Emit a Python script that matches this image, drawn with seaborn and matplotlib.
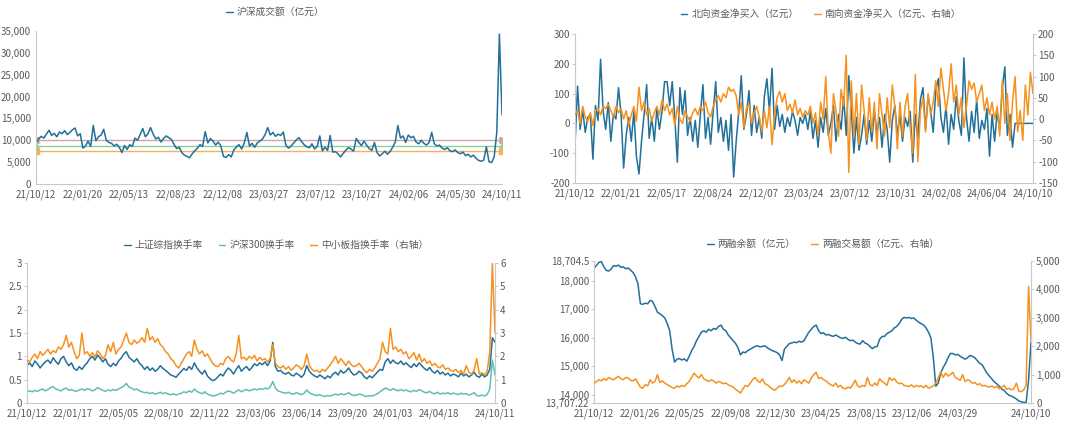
import numpy as np
import matplotlib
matplotlib.use("Agg")
import matplotlib.pyplot as plt
import seaborn as sns
from matplotlib.lines import Line2D
from matplotlib.ticker import FuncFormatter, MultipleLocator

# ---------------- data ----------------
# Panel 1: 沪深成交额 (亿元)
tl_labels = ['21/10/12', '22/01/20', '22/05/13', '22/08/23', '22/12/08', '23/03/27',
             '23/07/12', '23/10/27', '24/02/06', '24/05/30', '24/10/11']
turnover_value = [
    9400, 10300, 10900, 10500, 11400, 12300, 11100, 11600, 10800, 11900, 11500, 12200, 11300, 11800, 12400, 12800, 11000, 11500,
    8200, 8700, 9800, 8600, 13400, 9900, 10800, 11200, 12500, 10000, 9500, 9300, 8700, 9100, 8400, 7200, 8800, 7900,
    9000, 8600, 10500, 10000, 11300, 12700, 10800, 11500, 12900, 11400, 10300, 10700, 9600, 10400, 11000, 10600, 10200, 9100,
    8100, 8400, 7200, 6600, 6300, 6000, 6900, 7600, 8200, 9000, 8600, 12000, 9400, 10400, 9800, 8900, 9600, 8700,
    6300, 6100, 6700, 6200, 7800, 8500, 9000, 8000, 9400, 11800, 8700, 9300, 8400, 9400, 9800, 10300, 11300, 12900,
    11200, 11800, 10900, 11400, 11100, 11900, 8800, 8200, 8700, 9400, 10100, 10600, 9700, 9000, 8500, 8300, 9200, 8000,
    8600, 11000, 7600, 8400, 7700, 11100, 7300, 7400, 6900, 6200, 7000, 7700, 8300, 8000, 7500, 10400, 9500, 8800,
    9800, 8900, 8100, 7700, 9500, 7200, 6400, 6900, 7500, 6800, 7400, 8400, 9600, 13400, 10500, 11000, 9500, 11200,
    10600, 10900, 9600, 9200, 10000, 9300, 8900, 9500, 11800, 9200, 8700, 8900, 8200, 7900, 8300, 7600, 7400, 7800,
    7200, 6900, 7300, 6500, 6800, 6200, 6600, 5900, 5400, 5200, 5500, 8500, 5100, 4900, 6200, 11800, 34300, 15800,
]
ref_levels = [10100, 8800, 7600]

# Panel 2: 北向 / 南向资金净买入
tr_labels = ['21/10/12', '22/01/21', '22/05/17', '22/08/24', '22/12/07', '23/03/24',
             '23/07/12', '23/10/31', '24/02/08', '24/06/04', '24/10/10']
north_flow = [
    -75, 125, -20, 45, -30, 20, 30, -120, 60, 10, 215, 40, -20, 70, -60, 30, 15, 120,
    30, -150, -40, 20, -60, 40, -110, -170, -60, 30, 130, -50, 20, -60, 50, -20, 40, 140,
    140, 60, 140, 20, -130, 120, 30, 110, -40, 20, -60, 10, -80, 30, 130, -50, 20, -70,
    40, 140, -30, 20, -60, 10, -90, 30, -180, -60, 40, 160, -20, 30, 110, -40, 60, -30,
    20, -50, 90, 150, 40, 185, -20, 60, -10, 30, -30, 20, -10, 40, 10, -40, 20, 0,
    30, -20, 40, -50, 10, -80, 20, -30, 50, -40, 0, 60, -60, 30, -20, 90, -40, 160,
    40, -100, 20, -90, -40, 30, -70, 10, -60, 40, -30, 20, -80, 30, -20, -130, 10, 60,
    -40, 30, -60, 20, -10, 40, -130, 30, -50, 80, 120, -20, 90, 40, -30, 110, 150, 20,
    -30, 60, -70, 30, -20, 90, 10, -40, 220, 20, -60, 40, -30, 80, -50, 10, -20, 50,
    -110, 30, -60, 40, -20, 120, 190, -40, 30, -80, 0, 0, 0, 0, 0, 0, 0, 0,
]
south_flow = [
    10, 20, -10, 30, 5, -5, 15, -15, 20, 25, 10, 30, 25, 35, 20, 5, 30, 15,
    25, 0, 20, -15, 10, 30, -5, 75, 20, 40, 10, 25, -5, 15, 30, 10, 45, 20,
    35, 10, 25, -15, 30, 0, -10, 20, 5, -5, 15, 25, 10, 30, 20, 40, 15, 5,
    30, 45, 55, 40, 60, 50, 75, 65, 70, 55, 10, 40, -20, 25, 35, -10, 15, 30,
    5, -30, 20, -20, 30, -60, 10, 50, 65, 40, 60, 20, 35, 15, 45, 10, 25, 5,
    20, 10, 30, -10, 15, -40, 40, 0, 100, -30, -80, 60, 20, -40, 70, 30, 150, -125,
    90, -40, 60, -60, 80, 20, -50, 50, -30, 40, -70, 60, 10, -40, 50, -20, 80, 30,
    -70, 40, -40, 30, 60, -20, -80, 105, -100, 20, 50, -30, 60, 10, 40, 90, 30, 120,
    70, 20, 60, 130, 40, 80, 10, 50, -20, 30, 90, 70, 85, 40, 60, 80, 20, 50,
    10, 40, 0, 30, -40, 90, -10, 60, -50, 40, 100, -30, 20, -50, 80, 10, 110, 60,
]

# Panel 3: 换手率
bl_labels = ['21/10/12', '22/01/17', '22/05/05', '22/08/10', '22/11/22', '23/03/06',
             '23/06/14', '23/09/20', '24/01/03', '24/04/18', '', '24/10/11']
sse_turnover = [
    0.80, 0.86, 0.78, 0.90, 0.84, 0.75, 0.82, 0.88, 0.92, 0.85, 0.97, 0.89, 0.83, 0.95, 1.00, 0.88, 0.80, 0.86,
    0.74, 0.70, 0.78, 0.72, 0.80, 0.86, 0.95, 1.00, 0.92, 1.03, 0.96, 0.88, 0.95, 0.83, 0.78, 0.85, 0.80, 0.90,
    0.96, 1.05, 1.10, 0.98, 0.93, 0.88, 0.95, 0.85, 0.80, 0.72, 0.78, 0.70, 0.75, 0.68, 0.72, 0.80, 0.74, 0.70,
    0.65, 0.60, 0.58, 0.55, 0.62, 0.68, 0.74, 0.70, 0.78, 0.72, 0.86, 0.75, 0.68, 0.62, 0.70, 0.58, 0.52, 0.48,
    0.50, 0.56, 0.62, 0.58, 0.68, 0.75, 0.70, 0.62, 0.72, 0.80, 0.68, 0.74, 0.78, 0.70, 0.76, 0.84, 0.80, 0.86,
    0.82, 0.88, 0.80, 0.90, 1.30, 0.78, 0.68, 0.70, 0.64, 0.62, 0.66, 0.60, 0.58, 0.64, 0.60, 0.55, 0.62, 0.80,
    0.68, 0.62, 0.58, 0.55, 0.60, 0.56, 0.52, 0.58, 0.54, 0.62, 0.66, 0.60, 0.70, 0.64, 0.68, 0.75, 0.66, 0.60,
    0.62, 0.68, 0.64, 0.56, 0.52, 0.58, 0.54, 0.60, 0.66, 0.72, 0.70, 0.88, 0.95, 0.85, 0.92, 0.86, 0.84, 0.90,
    0.82, 0.86, 0.80, 0.76, 0.84, 0.78, 0.86, 0.80, 0.74, 0.70, 0.76, 0.68, 0.64, 0.70, 0.62, 0.66, 0.60, 0.64,
    0.58, 0.62, 0.60, 0.56, 0.64, 0.58, 0.62, 0.56, 0.60, 0.66, 0.58, 0.55, 0.62, 0.56, 0.60, 0.72, 1.40, 1.30,
]
hs300_turnover = [
    0.25, 0.26, 0.24, 0.27, 0.25, 0.28, 0.30, 0.26, 0.29, 0.33, 0.35, 0.30, 0.28, 0.26, 0.30, 0.32, 0.27, 0.29,
    0.26, 0.25, 0.28, 0.30, 0.27, 0.31, 0.29, 0.26, 0.28, 0.33, 0.30, 0.27, 0.25, 0.28, 0.26, 0.29, 0.27, 0.30,
    0.33, 0.36, 0.42, 0.34, 0.32, 0.28, 0.30, 0.26, 0.24, 0.22, 0.23, 0.20, 0.22, 0.19, 0.21, 0.23, 0.20, 0.22,
    0.19, 0.18, 0.20, 0.17, 0.19, 0.21, 0.24, 0.22, 0.26, 0.23, 0.30, 0.25, 0.22, 0.20, 0.24, 0.19, 0.17, 0.15,
    0.16, 0.18, 0.21, 0.19, 0.23, 0.26, 0.24, 0.21, 0.25, 0.28, 0.24, 0.27, 0.29, 0.26, 0.28, 0.30, 0.28, 0.31,
    0.29, 0.32, 0.30, 0.34, 0.46, 0.32, 0.26, 0.24, 0.22, 0.21, 0.23, 0.20, 0.19, 0.22, 0.20, 0.18, 0.21, 0.28,
    0.22, 0.19, 0.17, 0.16, 0.18, 0.15, 0.14, 0.16, 0.15, 0.17, 0.19, 0.17, 0.20, 0.18, 0.19, 0.22, 0.18, 0.16,
    0.17, 0.19, 0.18, 0.15, 0.14, 0.16, 0.15, 0.17, 0.20, 0.24, 0.28, 0.32, 0.30, 0.27, 0.31, 0.28, 0.26, 0.29,
    0.26, 0.28, 0.25, 0.24, 0.27, 0.25, 0.29, 0.26, 0.23, 0.22, 0.25, 0.21, 0.20, 0.23, 0.19, 0.21, 0.20, 0.22,
    0.19, 0.21, 0.20, 0.18, 0.21, 0.19, 0.20, 0.17, 0.19, 0.22, 0.16, 0.15, 0.17, 0.15, 0.18, 0.30, 0.92, 0.60,
]
sme_turnover = [
    1.84, 1.76, 1.96, 2.10, 1.90, 2.20, 2.04, 2.16, 2.30, 2.10, 2.24, 2.16, 2.40, 2.30, 2.50, 2.90, 2.40, 2.60,
    2.20, 1.90, 2.04, 3.00, 2.10, 2.20, 2.00, 2.16, 1.96, 2.24, 2.10, 1.90, 2.04, 2.50, 2.20, 2.60, 2.10, 2.30,
    2.40, 2.70, 3.00, 2.60, 2.50, 2.70, 2.56, 2.64, 2.80, 2.60, 3.20, 2.70, 2.84, 2.60, 2.76, 2.50, 2.40, 2.20,
    2.10, 1.90, 1.80, 1.60, 1.50, 1.70, 1.90, 2.10, 2.20, 2.00, 2.70, 2.30, 2.10, 2.24, 2.00, 2.10, 1.90, 1.70,
    1.60, 1.56, 1.70, 1.64, 1.90, 2.00, 1.84, 1.76, 2.10, 2.90, 1.90, 1.96, 1.84, 2.00, 1.90, 2.04, 1.80, 1.96,
    1.84, 1.90, 1.76, 1.90, 2.50, 1.70, 1.56, 1.50, 1.60, 1.44, 1.56, 1.40, 1.50, 1.64, 1.56, 1.44, 1.60, 2.10,
    1.60, 1.44, 1.36, 1.40, 1.30, 1.44, 1.36, 1.50, 1.64, 1.80, 2.00, 1.70, 1.90, 1.76, 1.60, 1.80, 1.64, 1.56,
    1.60, 1.70, 1.56, 1.40, 1.30, 1.44, 1.36, 1.50, 1.70, 1.90, 2.60, 2.20, 2.10, 3.20, 2.30, 2.40, 2.20, 2.30,
    2.10, 2.20, 1.90, 2.00, 2.16, 1.84, 2.10, 1.76, 1.90, 1.70, 1.80, 1.60, 1.70, 1.56, 1.50, 1.64, 1.44, 1.50,
    1.40, 1.36, 1.44, 1.30, 1.40, 1.24, 1.60, 1.32, 1.24, 1.40, 1.90, 1.24, 1.30, 1.20, 1.36, 2.20, 6.00, 3.00,
]

# Panel 4: 两融
br_labels = ['21/10/12', '22/01/26', '22/05/25', '22/09/08', '22/12/30', '23/04/25',
             '23/08/15', '23/12/06', '24/03/29', '', '24/10/10']
margin_balance = [
    18450, 18550, 18650, 18700, 18500, 18380, 18350, 18420, 18540, 18520,
    18560, 18480, 18500, 18430, 18460, 18380, 18300, 18150, 17900, 17200,
    17180, 17220, 17200, 17320, 17280, 17100, 16900, 16850, 16780, 16700,
    16500, 16250, 15600, 15150, 15250, 15270, 15220, 15260, 15180, 15350,
    15550, 15700, 15900, 16050, 16200, 16250, 16200, 16300, 16250, 16330,
    16300, 16400, 16450, 16300, 16250, 16100, 16000, 15900, 15800, 15650,
    15400, 15500, 15480, 15550, 15600, 15650, 15700, 15720, 15680, 15700,
    15720, 15650, 15600, 15550, 15520, 15480, 15400, 15200, 15600, 15700,
    15800, 15820, 15850, 15830, 15880, 15850, 15900, 16050, 16200, 16300,
    16400, 16450, 16250, 16150, 16180, 16100, 16120, 16080, 16050, 16100,
    16050, 16000, 15980, 16020, 15950, 15900, 15920, 15850, 15800, 15780,
    15900, 15820, 15780, 15700, 15620, 15680, 15700, 15950, 16050, 16050,
    16150, 16200, 16250, 16350, 16400, 16500, 16650, 16720, 16700, 16720,
    16680, 16700, 16620, 16550, 16500, 16450, 16350, 16200, 16000, 15300,
    14300, 14400, 14750, 14950, 15100, 15300, 15450, 15450, 15400, 15420,
    15350, 15300, 15250, 15300, 15380, 15350, 15300, 15200, 15100, 15050,
    14900, 14750, 14650, 14550, 14450, 14380, 14300, 14200, 14150, 14050,
    13980, 13950, 13900, 13850, 13780, 13750, 13730, 13720, 14500, 15850,
]
margin_trading = [
    700, 750, 820, 780, 860, 800, 900, 850, 820, 880, 940, 860, 820, 900, 880, 800, 780, 850,
    700, 560, 520, 650, 600, 820, 700, 760, 1000, 720, 780, 700, 650, 600, 540, 520, 600, 560,
    620, 580, 680, 760, 900, 1050, 950, 880, 1000, 850, 800, 760, 820, 780, 700, 760, 720, 680,
    700, 640, 600, 560, 480, 420, 350, 500, 620, 580, 700, 820, 900, 780, 720, 850, 680, 640,
    560, 500, 450, 520, 600, 580, 650, 760, 900, 720, 820, 700, 780, 680, 820, 760, 700, 880,
    1000, 1080, 860, 900, 820, 780, 700, 640, 600, 700, 560, 620, 520, 500, 560, 520, 650, 800,
    600, 560, 620, 580, 900, 650, 600, 700, 620, 850, 760, 700, 620, 900, 800, 860, 740, 680,
    700, 620, 600, 580, 640, 560, 620, 580, 600, 540, 620, 520, 560, 600, 700, 880, 1100, 900,
    1050, 950, 1000, 1080, 900, 850, 800, 1000, 750, 820, 780, 700, 720, 640, 680, 600, 620, 580,
    560, 600, 540, 580, 500, 560, 620, 480, 520, 460, 500, 700, 420, 400, 460, 620, 4100, 2200,
]

for name, arr in [('turnover_value', turnover_value), ('north_flow', north_flow), ('south_flow', south_flow),
                  ('sse', sse_turnover), ('hs300', hs300_turnover), ('sme', sme_turnover),
                  ('margin_balance', margin_balance), ('margin_trading', margin_trading)]:
    assert len(arr) == 180, (name, len(arr))

# ---------------- style ----------------
sns.set_theme(style="white")
plt.rcParams['font.family'] = ['Noto Sans CJK SC', 'DejaVu Sans']
plt.rcParams['axes.unicode_minus'] = False

BLUE = '#22709a'
ORANGE = '#f5921e'
TEAL = '#5fbfb3'
GRID = '#c8c8c8'
TXT = '#595959'
FS = 7.0
LW = 1.1

fig = plt.figure(figsize=(10.8, 4.24), dpi=100)


def axes_px(l, t, r, b):
    W, H = 1080, 424
    return fig.add_axes([l / W, 1 - b / H, (r - l) / W, (b - t) / H])


def style(ax, twin=False):
    ax.spines['top'].set_visible(False)
    if twin:
        ax.spines['left'].set_visible(False)
        ax.spines['bottom'].set_visible(False)
        ax.spines['right'].set_color(GRID)
        ax.spines['right'].set_linewidth(0.8)
    else:
        ax.spines['right'].set_visible(False)
        for s in ['left', 'bottom']:
            ax.spines[s].set_color(GRID)
            ax.spines[s].set_linewidth(0.8)
    ax.tick_params(axis='both', which='both', direction='out', length=2.5, width=0.7,
                   color=GRID, labelcolor=TXT, labelsize=FS, pad=1.2)
    ax.set_xlabel('')
    ax.set_ylabel('')
    ax.grid(False)


def line(ax, y, color):
    sns.lineplot(x=np.arange(len(y)), y=y, ax=ax, color=color, linewidth=LW, legend=False)


def xticks(ax, labels, n, step=None):
    if step is None:
        step = (n - 1) / (len(labels) - 1)
    pos = [k * step for k in range(len(labels) - 1)] + [n - 1]
    ax.set_xticks(pos)
    ax.set_xticklabels(labels)
    ax.set_xlim(0, n - 1)


comma = FuncFormatter(lambda v, p: f"{v:,.0f}")


def legend(items, cx, cy):
    handles = [Line2D([], [], color=c, lw=1.0) for c, _ in items]
    fig.legend(handles, [t for _, t in items], loc='center', bbox_to_anchor=(cx / 1080, 1 - cy / 424),
               ncol=len(items), frameon=False, fontsize=FS, handlelength=0.7, handletextpad=0.4,
               columnspacing=1.6, labelcolor=TXT)


N = 180

# ---- Panel 1 ----
ax1 = axes_px(36, 31, 502, 184)
line(ax1, turnover_value, BLUE)
for lvl, c, m in zip(ref_levels, ['#cfa6a6', '#86d0a2', '#f6b060'], ['X', '^', 's']):
    ax1.axhline(lvl, color=c, lw=1.0, marker=m, ms=4.5, zorder=1)
ax1.set_ylim(0, 35000)
ax1.yaxis.set_major_locator(MultipleLocator(5000))
ax1.yaxis.set_major_formatter(comma)
xticks(ax1, tl_labels, N)
style(ax1)
legend([(BLUE, '沪深成交额（亿元）')], 275, 12)

# ---- Panel 2 ----
ax2 = axes_px(575, 34, 1033, 183)
ax2b = ax2.twinx()
line(ax2, north_flow, BLUE)
line(ax2b, south_flow, ORANGE)
ax2.set_ylim(-200, 300)
ax2.yaxis.set_major_locator(MultipleLocator(100))
ax2b.set_ylim(-150, 200)
ax2b.yaxis.set_major_locator(MultipleLocator(50))
xticks(ax2, tr_labels, N)
style(ax2)
style(ax2b, twin=True)
legend([(BLUE, '北向资金净买入（亿元）'), (ORANGE, '南向资金净买入（亿元、右轴）')], 821, 14)

# ---- Panel 3 ----
ax3 = axes_px(27, 263, 495, 403)
ax3b = ax3.twinx()
line(ax3, sse_turnover, BLUE)
line(ax3, hs300_turnover, TEAL)
line(ax3b, sme_turnover, ORANGE)
ax3.set_ylim(0, 3)
ax3.yaxis.set_major_locator(MultipleLocator(0.5))
ax3.yaxis.set_major_formatter(FuncFormatter(lambda v, p: f"{v:g}"))
ax3b.set_ylim(0, 6)
ax3b.yaxis.set_major_locator(MultipleLocator(1))
xticks(ax3, bl_labels, N, step=17.5)
style(ax3)
style(ax3b, twin=True)
legend([(BLUE, '上证综指换手率'), (TEAL, '沪深300换手率'), (ORANGE, '中小板指换手率（右轴）')], 276, 245)

# ---- Panel 4 ----
ax4 = axes_px(594, 261, 1031, 403)
ax4b = ax4.twinx()
line(ax4, margin_balance, BLUE)
line(ax4b, margin_trading, ORANGE)
lo, hi = 13707.22, 18704.5
ax4.set_ylim(lo, hi)
ax4.set_yticks([lo, 14000, 15000, 16000, 17000, 18000, hi])
ax4.set_yticklabels(['13,707.22', '14,000', '15,000', '16,000', '17,000', '18,000', '18,704.5'])
ax4b.set_ylim(0, 5000)
ax4b.yaxis.set_major_locator(MultipleLocator(1000))
ax4b.yaxis.set_major_formatter(comma)
xticks(ax4, br_labels, N, step=18.6)
style(ax4)
style(ax4b, twin=True)
legend([(BLUE, '两融余额（亿元）'), (ORANGE, '两融交易额（亿元、右轴）')], 823, 244)

fig.savefig('out.png', dpi=100)
